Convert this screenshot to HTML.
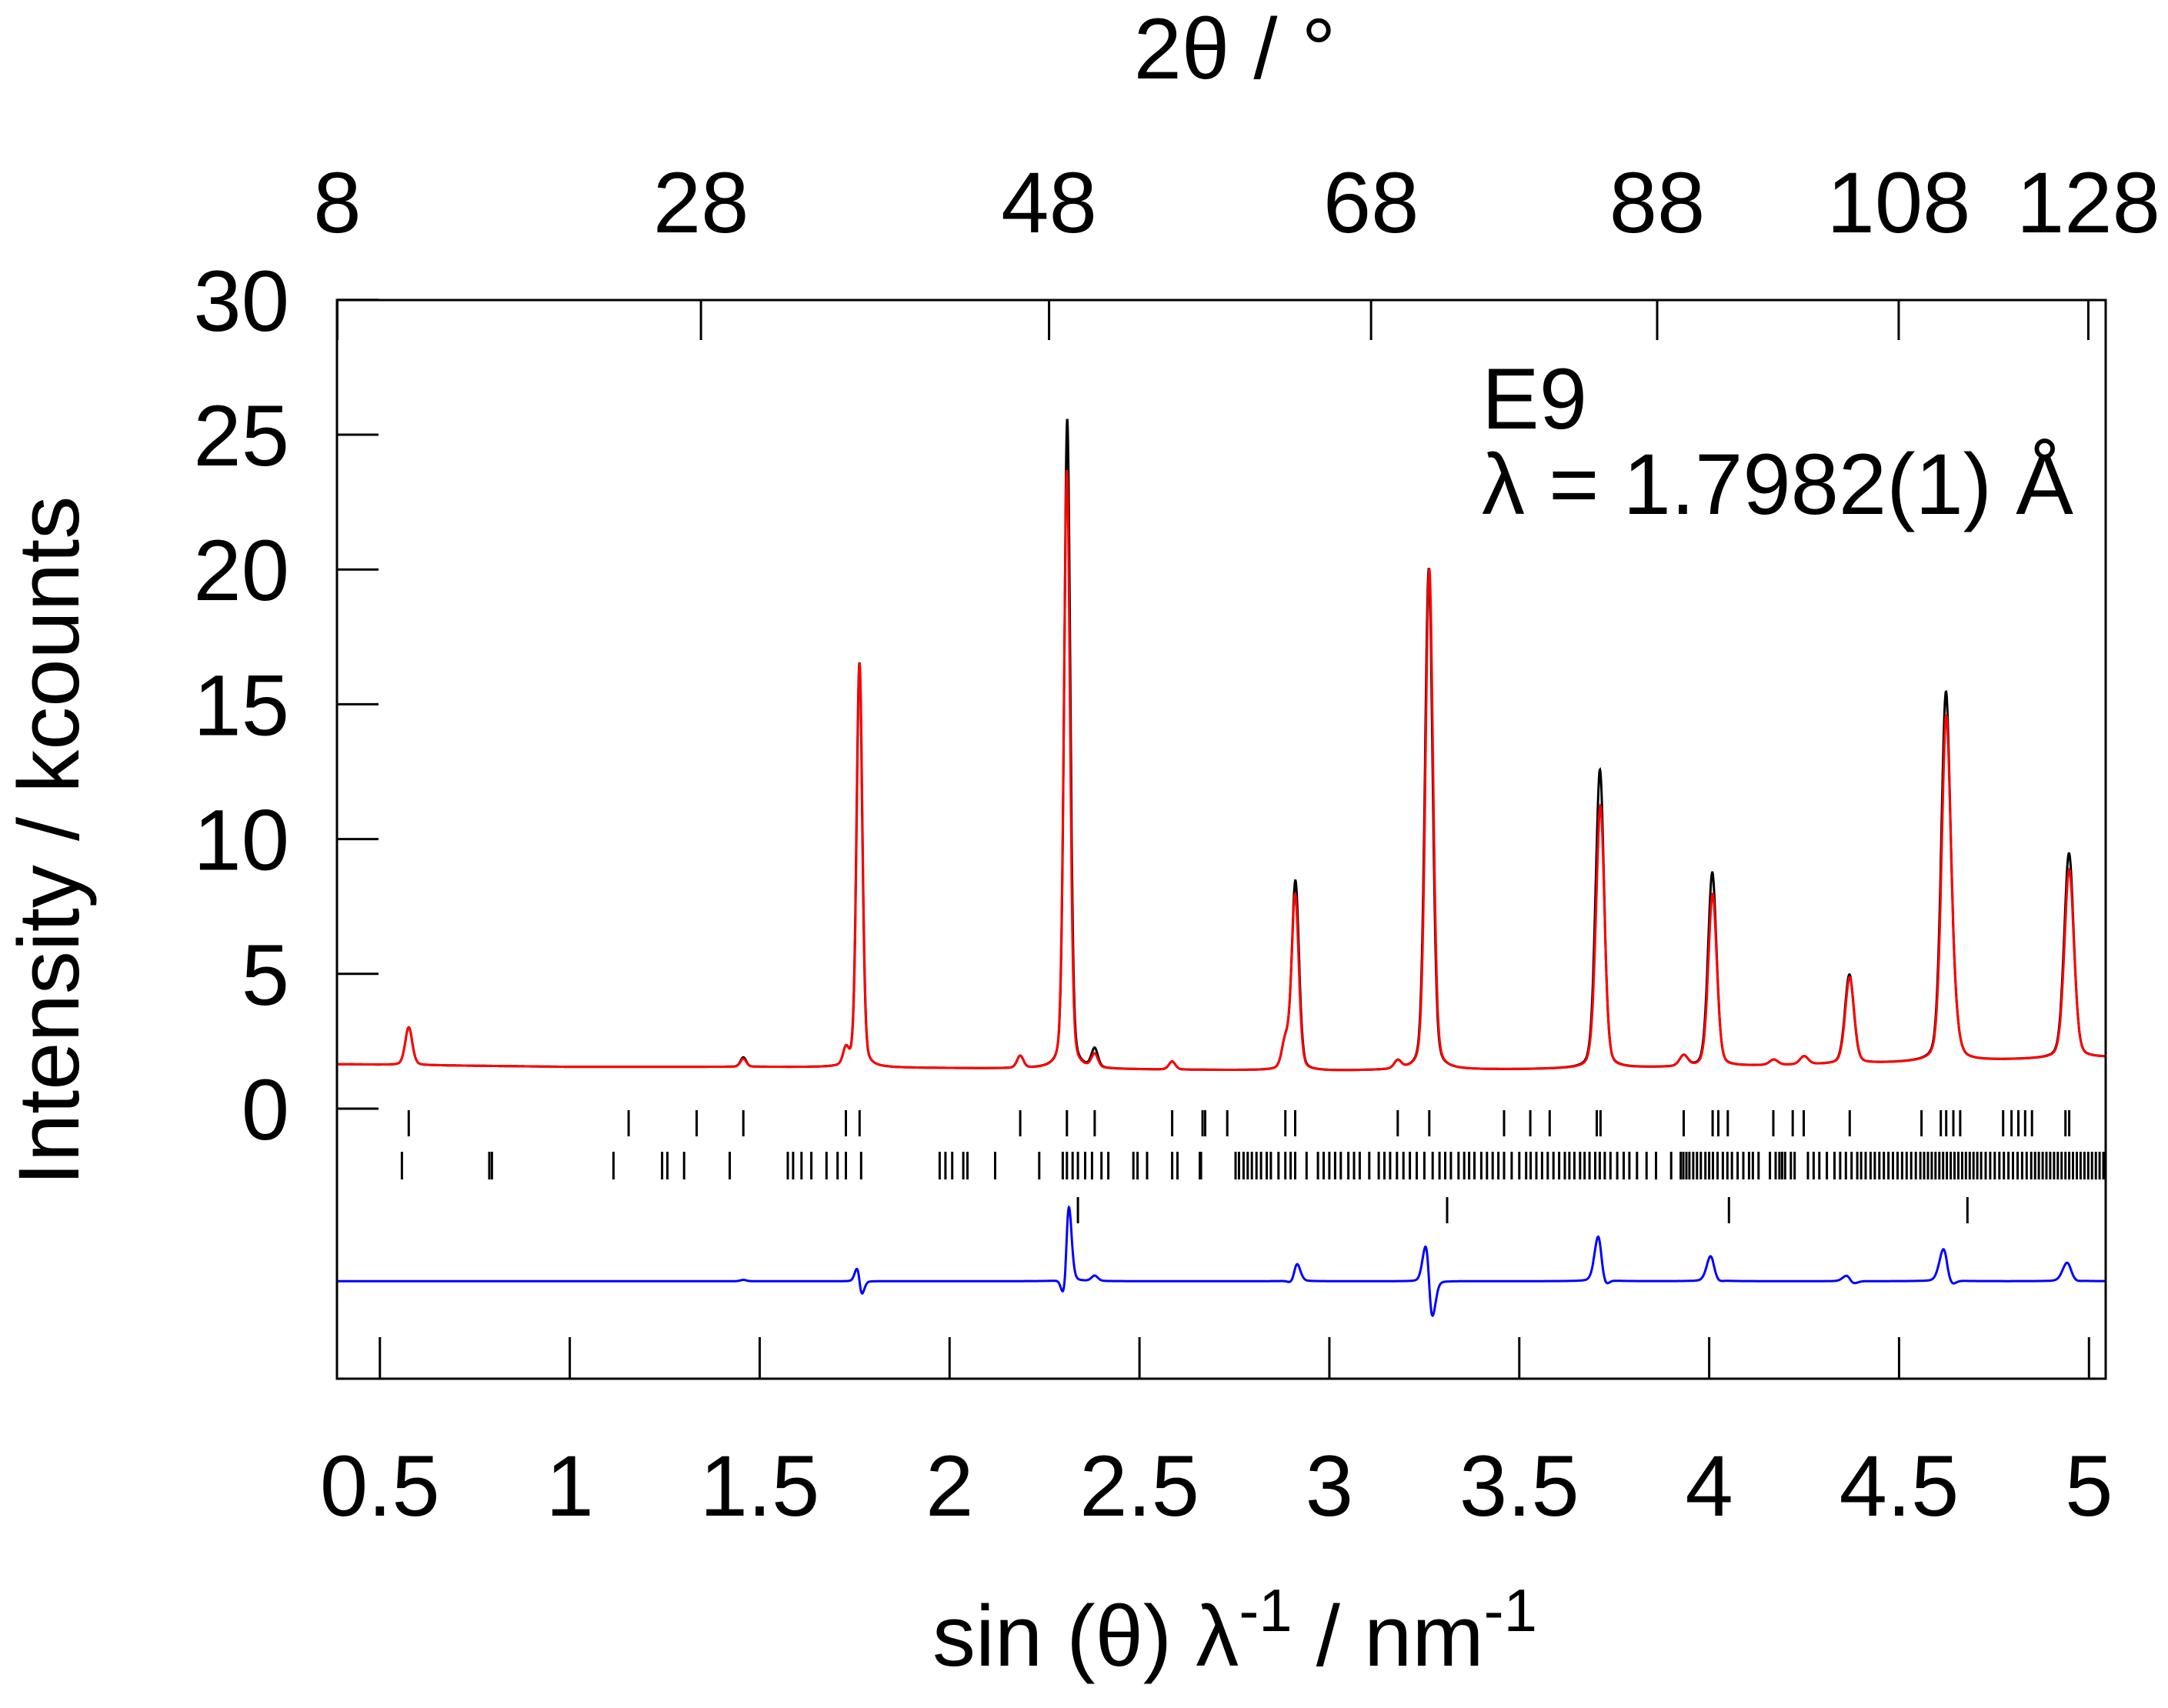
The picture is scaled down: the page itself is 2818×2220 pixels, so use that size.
<!DOCTYPE html>
<html><head><meta charset="utf-8"><title>E9 diffraction pattern</title>
<style>
html,body{margin:0;padding:0;background:#fff;}
svg{display:block;font-family:"Liberation Sans",sans-serif;}
</style></head>
<body>
<svg id="chart" width="2818" height="2220" viewBox="0 0 2818 2220" xmlns="http://www.w3.org/2000/svg">
<rect x="0" y="0" width="2818" height="2220" fill="#fff"/>
<g id="marks"></g>
<rect x="438" y="390" width="2299" height="1402" fill="none" stroke="#000" stroke-width="3"/>
<g id="axes"></g>
<text x="1605" y="102" font-size="112" text-anchor="middle">2θ / °</text>
<text x="1605" y="2165" font-size="112" text-anchor="middle">sin (θ) λ<tspan dy="-45" font-size="78">-1</tspan><tspan dy="45"> / nm</tspan><tspan dy="-45" font-size="78">-1</tspan></text>
<text transform="translate(102,1093) rotate(-90)" font-size="112" text-anchor="middle">Intensity / kcounts</text>
<text x="1926" y="557" font-size="112">E9</text>
<text x="1926" y="668" font-size="112">λ = 1.7982(1) Å</text>
</svg>
<script>
const xTicks = [0.5,1,1.5,2,2.5,3,3.5,4,4.5,5];
const xTickLabels = ["0.5","1","1.5","2","2.5","3","3.5","4","4.5","5"];
const yTicks = [0,5,10,15,20,25,30];
const yTickLabels = ["0","5","10","15","20","25","30"];
const topTicks = [8,28,48,68,88,108,128];
const topTickLabels = ["8","28","48","68","88","108","128"];
const bgS = [0.387,1.0,1.5,2.0,2.5,3.0,3.5,4.0,4.5,5.044];
const bgV = [1.65,1.55,1.55,1.5,1.45,1.4,1.45,1.55,1.7,1.9];
const peakPos = [0.576,1.457,1.727,1.763,2.186,2.309,2.382,2.586,2.884,2.910,3.180,3.263,3.700,3.714,3.933,4.009,4.170,4.250,4.370,4.624,4.645,4.948];
const calcH = [1.4,0.3,0.6,15.0,0.45,22.2,0.5,0.3,1.0,6.5,0.3,18.6,0.8,9.4,0.4,6.4,0.2,0.3,3.2,12.6,1.0,7.0];
const obsH  = [1.4,0.35,0.6,15.0,0.45,24.1,0.7,0.3,1.0,7.0,0.3,18.6,0.8,10.7,0.4,7.2,0.2,0.3,3.3,13.5,1.0,7.6];
const peakW = [0.011,0.009,0.009,0.009,0.01,0.0095,0.01,0.01,0.011,0.0112,0.011,0.0119,0.012,0.0127,0.013,0.0132,0.013,0.013,0.0139,0.0143,0.014,0.0149];
const obsShift = [0,0,0,-0.0004,0,0.0008,0,0,0,0.0006,0,-0.0012,0,-0.0012,0,-0.0008,0,0,-0.0008,-0.0008,0,-0.0006];
const diffOffset = -6.4;
const refl1 = [0.576,1.155,1.334,1.457,1.727,1.763,2.186,2.309,2.382,2.586,2.666,2.673,2.731,2.884,2.910,3.180,3.263,3.460,3.529,3.580,3.704,3.714,3.933,4.009,4.024,4.049,4.169,4.220,4.249,4.370,4.559,4.610,4.624,4.643,4.661,4.774,4.796,4.814,4.832,4.850,4.938,4.948];
const refl2 = [0.558,0.788,0.795,1.115,1.243,1.257,1.301,1.421,1.574,1.588,1.610,1.636,1.676,1.705,1.727,1.767,1.974,1.989,2.007,2.036,2.047,2.120,2.236,2.298,2.309,2.324,2.338,2.357,2.375,2.400,2.418,2.484,2.495,2.520,2.586,2.600,2.659,2.662,
2.753,2.762,2.774,2.785,2.796,2.808,2.820,2.835,2.846,2.866,2.884,2.898,2.910,2.940,2.970,2.985,3.000,3.015,3.030,3.050,3.065,3.080,3.105,3.130,3.145,3.160,3.178,3.195,3.212,3.230,3.250,3.272,3.290,3.305,3.320,3.340,3.355,3.368,3.382,3.400,3.415,3.430,3.445,3.460,3.480,3.500,3.518,3.530,3.545,3.560,3.575,3.590,3.605,3.620,3.632,3.645,3.660,3.672,3.685,3.700,3.712,3.725,3.740,3.758,3.775,3.790,3.810,3.835,3.860,3.900,3.925,3.932,3.940,3.948,3.958,3.968,3.978,3.990,4.000,4.010,4.022,4.036,4.048,4.060,4.075,4.090,4.105,4.115,4.130,4.160,4.175,4.185,4.192,4.200,4.215,4.225,4.260,4.275,4.290,4.310,4.330,4.345,4.360,4.375,4.390,4.400,4.412,4.425,4.436,4.448,4.460,4.472,4.484,4.496,4.508,4.520,4.532,4.544,4.556,4.566,4.576,4.586,4.596,4.606,4.616,4.626,4.636,4.646,4.656,4.666,4.676,4.686,4.696,4.706,4.716,4.728,4.740,4.752,4.764,4.776,4.788,4.800,4.812,4.824,4.836,4.848,4.858,4.868,4.878,4.888,4.898,4.908,4.918,4.928,4.938,4.948,4.958,4.968,4.978,4.988,4.998,5.008,5.018,5.028,5.038];
const refl3 = [2.338,3.310,4.052,4.680];

const NS = "http://www.w3.org/2000/svg";
const X0=438, X1=2737, S0=0.387, S1=5.044;
function sx(s){return X0+(s-S0)/(S1-S0)*(X1-X0);}
function sy(v){return 1441-v*35.04;}
function twoThetaToS(t){return Math.sin(t/2*Math.PI/180)/0.17982;}
function bg(s){for(let i=0;i<bgS.length-1;i++){if(s<=bgS[i+1]){const f=(s-bgS[i])/(bgS[i+1]-bgS[i]);return bgV[i]+f*(bgV[i+1]-bgV[i]);}}return bgV[bgV.length-1];}
function shape(d,w){const g=Math.exp(-Math.LN2*(d/w)*(d/w));const l=1/(1+(d/w)*(d/w));return 0.75*g+0.25*l;}
function calc(s){let v=bg(s);for(let i=0;i<peakPos.length;i++){v+=calcH[i]*shape(s-peakPos[i],peakW[i]);}return v;}
function obs(s){let v=bg(s);for(let i=0;i<peakPos.length;i++){v+=obsH[i]*shape(s-peakPos[i]-obsShift[i],peakW[i]);}return v;}
function mk(tag,attrs,parent){const e=document.createElementNS(NS,tag);for(const k in attrs)e.setAttribute(k,attrs[k]);parent.appendChild(e);return e;}
const marks=document.getElementById('marks');
const axes=document.getElementById('axes');
let po="",pc="",pd="";
for(let s=S0;s<=S1;s+=0.0008){
  const o=obs(s),c=calc(s);
  po+=(po?"L":"M")+sx(s).toFixed(1)+","+sy(o).toFixed(1);
  pc+=(pc?"L":"M")+sx(s).toFixed(1)+","+sy(c).toFixed(1);
  pd+=(pd?"L":"M")+sx(s).toFixed(1)+","+sy(diffOffset+o-c).toFixed(1);
}
const lo=mk('path',{d:po,fill:'none',stroke:'#000','stroke-width':3},marks);


const lc=mk('path',{d:pc,fill:'none',stroke:'#ff0000','stroke-width':3},marks);


const ld=mk('path',{d:pd,fill:'none',stroke:'#0000ff','stroke-width':3},marks);


function reflRow(arr,y0,y1,name){
  let d="";arr.forEach(s=>{if(s>=S0&&s<=S1)d+="M"+sx(s).toFixed(1)+","+y0+"V"+y1;});
  const p=mk('path',{d:d,stroke:'#000','stroke-width':3,fill:'none'},marks);
  
  
}
reflRow(refl1,1443,1477,'reflection-ticks-phase-1');
reflRow(refl2,1497,1533,'reflection-ticks-phase-2');
reflRow(refl3,1556,1590,'reflection-ticks-phase-3');
xTicks.forEach((t,i)=>{
  const x=sx(t);
  const l=mk('line',{x1:x,x2:x,y1:1792,y2:1738,stroke:'#000','stroke-width':3},axes);
  
  
  const tx=mk('text',{x:x,y:1970,'font-size':112,'text-anchor':'middle'},axes);
  tx.textContent=xTickLabels[i];
  
  
});
yTicks.forEach((t,i)=>{
  const y=sy(t);
  const l=mk('line',{x1:438,x2:492,y1:y,y2:y,stroke:'#000','stroke-width':3},axes);
  
  
  const tx=mk('text',{x:376,y:y+40,'font-size':112,'text-anchor':'end'},axes);
  tx.textContent=yTickLabels[i];
  
  
});
topTicks.forEach((t,i)=>{
  const x=sx(twoThetaToS(t));
  const l=mk('line',{x1:x,x2:x,y1:390,y2:442,stroke:'#000','stroke-width':3},axes);
  
  
  const tx=mk('text',{x:x,y:302,'font-size':112,'text-anchor':'middle'},axes);
  tx.textContent=topTickLabels[i];
  
  
});
</script>
</body></html>
